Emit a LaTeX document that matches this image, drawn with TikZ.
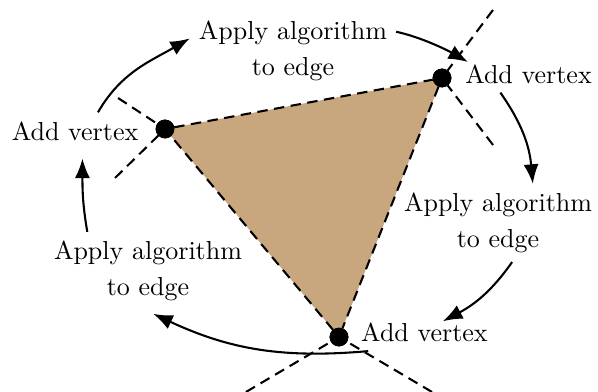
\documentclass[tikz,border=0pt]{standalone}
\usepackage{amsmath,amssymb}
\usepackage{tikz}
\usetikzlibrary{arrows.meta}
\definecolor{facetan}{RGB}{200,167,126}

\begin{document}
\begin{tikzpicture}[every node/.style={font=\normalsize},
  vdot/.style={draw,circle,fill=black,inner sep=0pt,minimum size=0.24cm},
  cut/.style={thick,dash pattern=on 4pt off 2.5pt},
  lbl/.style={align=center},
  flow/.style={thick,-{Latex[length=7.5pt,width=5.8pt]}}]
\useasboundingbox (0,0) rectangle (8.081,5.297);
\node[vdot] (a) at (2.230,3.554) {};
\node[vdot] (b) at (5.973,4.243) {};
\node[vdot] (c) at (4.581,0.743) {};
\fill[facetan] (a.center)--(b.center)--(c.center)--cycle;
\draw[cut] (a)--(b)--(c)--(a);
\coordinate (a1) at (1.595,3.973);
\coordinate (a2) at (1.554,2.892);
\coordinate (b1) at (6.662,5.162);
\coordinate (b2) at (6.662,3.338);
\coordinate (c1) at (3.324,0);
\coordinate (c2) at (5.838,0);
\draw[cut] (a1)--(a); \draw[cut] (a2)--(a);
\draw[cut] (b1)--(b); \draw[cut] (b2)--(b);
\draw[cut] (c1)--(c); \draw[cut] (c2)--(c);
\node[vdot] at (a) {};
\node[vdot] at (b) {};
\node[vdot] at (c) {};
\node (lv) at (1.014,3.527) {Add vertex};
\node[lbl] (tl) at (3.959,4.608) {Apply algorithm\\[1.8pt]to edge};
\node (bv) at (7.142,4.297) {Add vertex};
\node[lbl] (rl) at (6.730,2.284) {Apply algorithm\\[1.8pt]to edge};
\node (cv) at (5.736,0.804) {Add vertex};
\node[lbl] (ll) at (2.0,1.635) {Apply algorithm\\[1.8pt]to edge};
\draw[flow] ([xshift=0.31cm]lv.north) to[out=60,in=210] ([yshift=0.17cm]tl.west);
\draw[flow] ([yshift=0.26cm]tl.east) to[out=-12,in=150,looseness=0.8] ([shift={(0.16,-0.09)}]bv.north west);
\draw[flow] ([xshift=-0.38cm]bv.south) to[out=-55,in=95] ([xshift=0.47cm]rl.north);
\draw[flow] ([xshift=0.19cm]rl.south) to[out=235,in=28] ([shift={(0.25,-0.1)}]cv.north);
\draw[flow] ([xshift=-0.76cm]cv.south) to[out=185,in=-25] ([shift={(0.07,-0.05)}]ll.south);
\draw[flow] ([xshift=-0.82cm]ll.north) to[out=100,in=-90] ([shift={(0.1,-0.12)}]lv.south);
\end{tikzpicture}
\end{document}
